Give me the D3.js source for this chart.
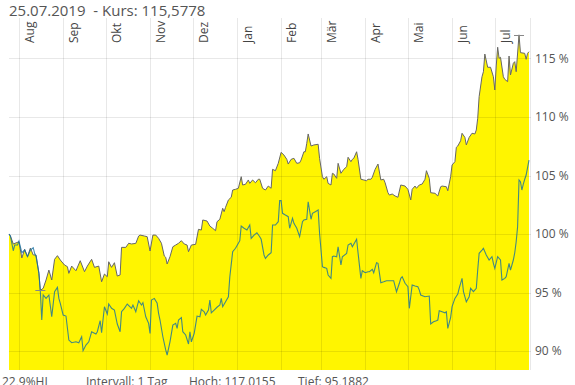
<!DOCTYPE html>
<html><head><meta charset="utf-8">
<script src="https://cdn.jsdelivr.net/npm/d3@7"></script>
<style>
html,body{margin:0;padding:0;background:#fff;overflow:hidden}
svg{display:block;font-family:"Open Sans",sans-serif}
</style></head>
<body>
<svg id="c" width="575" height="385"></svg>
<script>
// ---- data (days since 25.07.2018, value in %) ----
const startDate = new Date(2018, 6, 25);
const endDate = new Date(2019, 6, 25);

const upperDays = [0,1,3,7,9,11,13,15,17,19,21,22,24,26,28,30,32,34,36,39,41,42,44,47,50,53,55,58,60,63,65,67,69,70,72,74,76,78,79,82,84,86,89,91,92,95,97,99,101,103,105,107,109,110,111,113,115,117,119,121,123,125,126,128,131,133,135,136,139,141,143,145,146,148,150,151,152,154,156,157,159,161,163,164,166,168,169,171,173,175,176,178,180,182,184,185,187,189,191,193,195,196,198,200,202,204,205,207,208,209,210,212,214,217,218,220,221,223,224,226,227,228,230,231,233,235,237,238,240,241,242,244,245,247,249,251,252,254,255,257,259,261,263,264,266,267,269,271,273,275,278,280,282,283,285,286,288,290,292,293,295,296,299,301,303,304,307,308,310,311,313,314,315,317,318,320,321,323,325,327,328,329,330,332,333,334,336,338,340,341,342,343,344,345,347,348,350,351,352,354,355,356,358,359,362,363,364,365];
const upperVals = [100.00,99.83,99.15,99.34,97.95,98.69,98.06,98.80,98.21,98.21,96.64,95.19,95.36,96.07,96.92,96.07,97.84,98.15,97.78,97.35,97.21,96.64,97.26,96.86,97.72,96.78,97.26,97.84,97.15,97.26,95.92,96.58,96.35,97.63,97.15,97.55,96.41,96.50,98.86,98.86,99.21,99.15,99.20,99.83,99.91,99.83,99.77,98.55,99.91,99.91,99.63,99.21,98.12,98.01,97.44,98.06,98.91,99.06,99.21,99.43,99.15,99.06,98.49,99.06,99.12,100.40,100.34,101.20,101.11,100.68,100.49,100.28,101.05,101.26,102.20,101.91,102.28,102.91,103.14,103.76,103.82,103.91,104.90,104.19,104.25,104.62,104.33,104.62,104.38,104.68,104.68,103.91,103.76,104.10,103.91,105.53,105.41,106.04,106.98,106.75,106.38,105.98,106.38,106.47,106.04,106.09,106.32,107.03,107.03,107.75,108.55,107.52,107.61,107.67,106.47,104.90,104.68,104.90,104.33,104.19,105.19,105.13,104.76,106.04,105.19,105.53,105.75,106.56,106.18,106.38,106.47,107.03,106.38,104.68,104.62,104.56,104.68,104.68,104.85,105.53,105.98,104.62,104.68,104.38,103.53,103.33,103.42,103.25,103.14,104.19,104.10,103.82,102.91,103.82,104.10,103.91,104.19,104.27,104.68,105.41,104.76,103.53,103.48,103.25,104.04,104.10,104.04,103.70,104.90,105.90,106.18,107.41,107.52,107.97,108.61,108.26,107.61,108.26,108.61,108.55,108.89,109.89,111.74,113.44,113.87,115.38,114.25,114.25,113.44,112.31,114.36,115.96,115.02,115.10,113.44,113.22,113.02,115.21,113.59,114.59,114.73,113.87,117.02,115.50,115.44,114.93,115.44,115.58];

const lowerDays = [0,1,3,4,6,7,9,11,13,15,17,18,19,21,22,23,24,26,28,30,32,34,35,36,38,40,42,44,47,49,51,52,54,56,58,61,62,64,65,67,69,70,72,74,76,78,79,81,83,86,87,89,91,93,94,96,98,99,100,102,104,105,106,108,110,111,113,115,117,118,119,121,122,124,126,127,128,130,132,134,135,137,138,140,141,142,144,146,148,149,150,152,154,155,157,159,161,162,163,165,167,169,170,172,174,176,177,179,180,182,184,185,187,189,190,191,192,194,196,197,199,200,202,204,206,207,209,210,212,213,215,217,218,220,221,223,224,226,227,228,230,231,233,234,237,238,240,241,244,245,247,248,250,252,253,255,256,258,259,261,263,265,267,270,272,274,275,276,278,280,281,283,285,287,288,289,292,295,296,298,300,301,302,304,306,307,308,310,311,313,315,316,318,319,321,323,324,326,328,329,330,332,333,335,337,339,340,341,343,345,346,348,349,351,352,354,355,356,357,358,359,360,361,362,363,365];
const lowerVals = [100.00,99.83,98.57,99.06,99.06,99.40,98.40,98.63,98.06,98.63,98.83,98.35,98.06,96.64,95.07,92.65,94.79,94.50,94.79,92.93,95.07,95.44,94.50,94.08,93.08,92.99,90.94,90.71,90.79,90.71,91.22,90.03,90.51,90.79,91.65,91.45,91.65,92.59,91.56,93.79,93.16,94.02,93.65,93.50,92.31,91.65,93.36,93.65,94.02,93.65,93.93,93.36,94.30,93.93,94.13,92.93,92.37,91.51,94.36,94.50,94.08,93.22,92.65,91.22,90.09,89.66,90.79,92.22,92.37,91.94,92.65,92.85,91.65,91.37,90.60,91.65,90.79,91.51,92.99,92.93,93.56,93.36,93.08,93.50,94.36,93.27,93.50,93.74,93.93,94.50,93.79,94.21,94.64,96.35,98.49,98.78,99.21,99.43,100.68,100.49,100.34,100.77,99.63,99.91,100.11,99.77,99.55,98.21,97.92,98.21,98.40,100.77,100.77,101.05,102.85,102.85,101.77,101.62,101.48,100.49,101.34,100.91,100.49,99.77,101.05,101.20,101.26,102.76,101.26,101.77,101.91,102.05,100.06,97.21,97.15,97.07,96.50,96.21,98.06,98.12,98.06,98.91,97.35,98.06,98.35,99.06,99.21,98.91,99.55,98.40,96.21,96.86,96.69,96.78,96.78,96.98,96.69,97.55,97.50,95.84,95.92,96.01,96.01,96.01,95.07,95.79,96.21,96.35,95.79,95.50,93.65,95.64,95.56,95.50,95.21,94.79,94.64,94.70,92.31,92.50,92.59,92.65,93.44,93.36,93.27,93.36,91.94,92.88,93.79,94.50,94.87,95.36,96.21,95.07,94.21,94.64,95.36,95.07,95.36,96.92,98.35,98.63,98.78,98.21,97.78,98.06,97.50,97.07,98.06,97.78,96.07,96.21,96.35,97.50,96.92,97.78,98.40,99.34,100.62,104.62,104.47,103.76,104.27,104.68,105.04,106.32];

const monthNames = ["Aug","Sep","Okt","Nov","Dez","Jan","Feb","Mär","Apr","Mai","Jun","Jul"];
const yTicks = [90,95,100,105,110,115];
const titleText = "25.07.2019  - Kurs: 115,5778";
const footerTexts = ["22,9%HL","Intervall: 1 Tag","Hoch: 117,0155","Tief: 95,1882"];
const highValue = 117.0155, lowValue = 95.1882;

// ---- drawing ----
const svg = d3.select("#c");
const L = 9, R = 529, T = 18, B = 370;
const x = d3.scaleTime().domain([startDate, endDate]).range([L, R]);
const y = d3.scaleLinear().domain([88.38, 118.46]).range([B, T]);

const toPts = (days, vals) => days.map((d, i) => ({date: d3.timeDay.offset(startDate, d), v: vals[i]}));
const upper = toPts(upperDays, upperVals);
const lower = toPts(lowerDays, lowerVals);

// title
svg.append("text").attr("x", 9).attr("y", 16).attr("font-size", 15).attr("fill", "#555")
  .style("white-space", "pre").text(titleText);

// area
svg.append("path").datum(upper)
  .attr("d", d3.area().x(d => x(d.date)).y0(B).y1(d => y(d.v)))
  .attr("fill", "#fff500");

// grid
const months = d3.timeMonth.range(d3.timeMonth.ceil(startDate), endDate);
const grid = svg.append("g").attr("stroke", "rgba(0,0,0,0.09)").attr("stroke-width", 1);
months.forEach(m => {
  const xx = Math.round(x(m)) + 0.5;
  grid.append("line").attr("x1", xx).attr("x2", xx).attr("y1", T).attr("y2", B);
});
grid.append("line").attr("x1", R + 1.5).attr("x2", R + 1.5).attr("y1", T).attr("y2", B);
yTicks.forEach(t => {
  const yy = Math.round(y(t)) + 0.5;
  grid.append("line").attr("x1", L).attr("x2", R + 2).attr("y1", yy).attr("y2", yy);
});

// month labels
months.forEach((m, i) => {
  svg.append("text")
    .attr("transform", `translate(${x(m) + 15},43) rotate(-90)`)
    .attr("font-size", 12).attr("fill", "#444")
    .text(monthNames[i]);
});

// y axis
const yAxis = svg.append("g").attr("transform", `translate(${R},0)`)
  .call(d3.axisRight(y).tickValues(yTicks).tickSize(0).tickPadding(6).tickFormat(d => d + " %"));
yAxis.select(".domain").remove();
yAxis.selectAll("text").attr("font-family", "Open Sans").attr("font-size", 12).attr("fill", "#555");

// lines
const line = d3.line().x(d => x(d.date)).y(d => y(d.v));
svg.append("path").datum(upper).attr("d", line).attr("fill", "none")
  .attr("stroke", "#666").attr("stroke-width", 1);
svg.append("path").datum(lower).attr("d", line).attr("fill", "none")
  .attr("stroke", "rgb(20,110,160)").attr("stroke-opacity", 0.8).attr("stroke-width", 1.1);

// high / low markers
const hi = upper[d3.maxIndex(upper, d => d.v)];
const lo = upper[d3.minIndex(upper, d => d.v)];
[[hi, highValue], [lo, lowValue]].forEach(([p, v]) => {
  const cx = x(p.date), cy = Math.round(y(v)) + 0.5;
  svg.append("line").attr("x1", cx - 5).attr("x2", cx + 5).attr("y1", cy).attr("y2", cy)
    .attr("stroke", "#888").attr("stroke-width", 1);
});

// footer
const footerX = [2, 86, 189, 298];
footerTexts.forEach((t, i) => {
  svg.append("text").attr("x", footerX[i]).attr("y", 386).attr("font-size", 12)
    .attr("fill", "#555").text(t);
});
</script>
</body></html>
